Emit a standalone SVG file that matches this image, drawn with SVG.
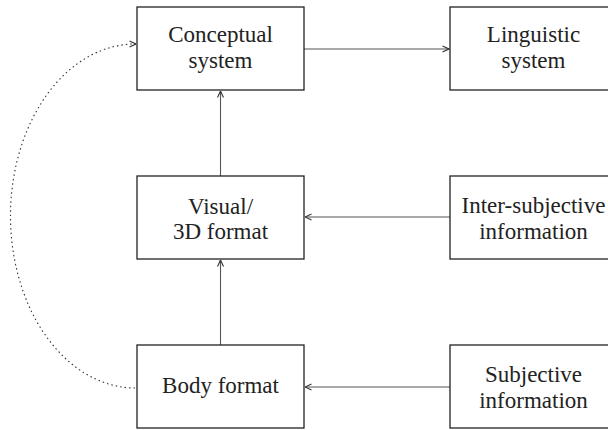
<svg xmlns="http://www.w3.org/2000/svg" width="608" height="430" viewBox="0 0 608 430">
<style>
.box{fill:#fff;stroke:#222;stroke-width:1.3}
.lbl{font-size:23px;fill:#222;text-anchor:middle}
.conn{fill:none;stroke:#555;stroke-width:1.1}
.dot{fill:none;stroke:#333;stroke-width:1.1;stroke-dasharray:1.5 3}
</style>
<defs>
<marker id="arr" viewBox="0 0 8 8" refX="7.5" refY="4" markerWidth="8" markerHeight="8" markerUnits="userSpaceOnUse" orient="auto">
<path d="M1,1 L7.5,4 L1,7" fill="none" stroke="#333" stroke-width="1.1"/>
</marker>
</defs>
<rect width="608" height="430" fill="#fff"/>
<g id="connectors">
<line class="conn" x1="304" y1="49" x2="449" y2="49" marker-end="url(#arr)"/>
<line class="conn" x1="220.5" y1="176" x2="220.5" y2="91" marker-end="url(#arr)"/>
<line class="conn" x1="220.5" y1="345" x2="220.5" y2="260" marker-end="url(#arr)"/>
<line class="conn" x1="450" y1="217" x2="305" y2="217" marker-end="url(#arr)"/>
<line class="conn" x1="450" y1="387" x2="305" y2="387" marker-end="url(#arr)"/>
<path class="dot" d="M135,388 A125,172 0 0 1 136,44" marker-end="url(#arr)"/>
</g>
<g font-family="'Liberation Serif', 'DejaVu Serif', serif">
<g id="conceptual">
<rect class="box" x="137" y="7" width="167" height="83"/>
<text class="lbl" x="220.5" y="42">Conceptual</text>
<text class="lbl" x="220.5" y="67.5">system</text>
</g>
<g id="linguistic">
<rect class="box" x="450" y="7" width="167" height="83"/>
<text class="lbl" x="533.5" y="42">Linguistic</text>
<text class="lbl" x="533.5" y="67.5">system</text>
</g>
<g id="visual">
<rect class="box" x="137" y="176" width="167" height="83"/>
<text class="lbl" x="220.5" y="214">Visual/</text>
<text class="lbl" x="220.5" y="239">3D format</text>
</g>
<g id="intersubjective">
<rect class="box" x="450" y="176" width="167" height="83"/>
<text class="lbl" x="533.5" y="213">Inter-subjective</text>
<text class="lbl" x="533.5" y="238.5">information</text>
</g>
<g id="body">
<rect class="box" x="137" y="345" width="167" height="83"/>
<text class="lbl" x="220.5" y="393">Body format</text>
</g>
<g id="subjective">
<rect class="box" x="450" y="345" width="167" height="83"/>
<text class="lbl" x="533.5" y="382">Subjective</text>
<text class="lbl" x="533.5" y="407.5">information</text>
</g>
</g>
</svg>
